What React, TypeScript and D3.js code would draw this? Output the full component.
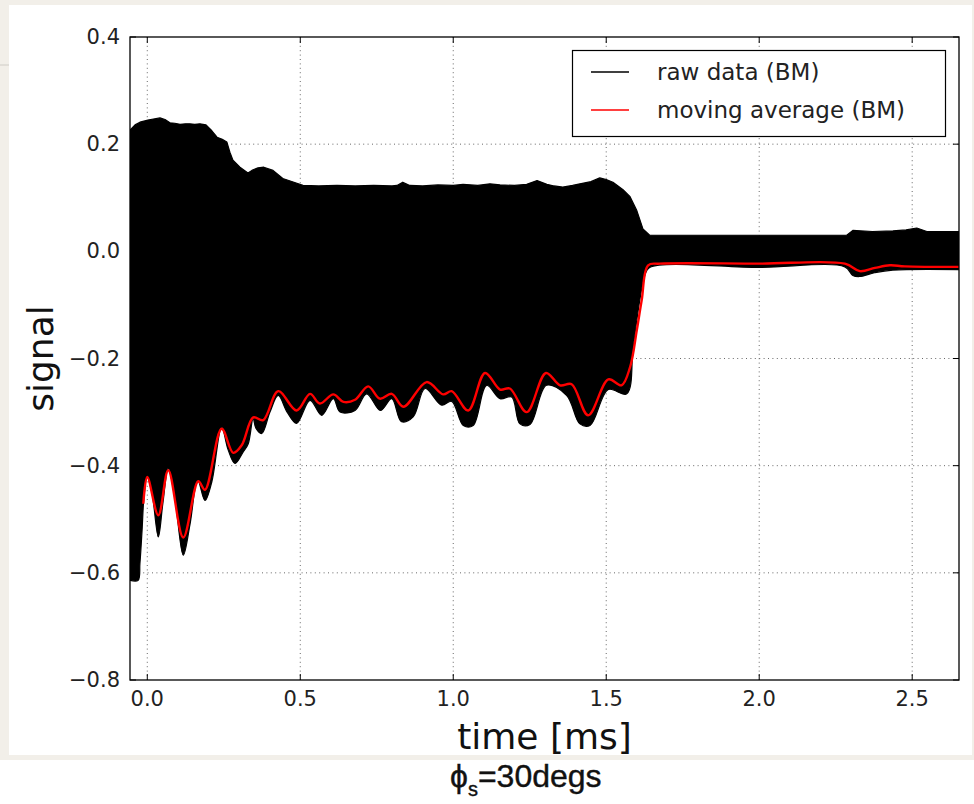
import React from "react";
import * as d3 from "d3";

// ---- data ----
const upperTime = [-0.0565, -0.04, -0.024, 0.002, 0.02, 0.0415, 0.058, 0.074, 0.09, 0.107, 0.125, 0.139, 0.155, 0.172, 0.192, 0.211, 0.228, 0.245, 0.26, 0.27, 0.28, 0.303, 0.329, 0.342, 0.362, 0.381, 0.411, 0.443, 0.489, 0.509, 0.56, 0.62, 0.68, 0.74, 0.8, 0.816, 0.835, 0.858, 0.9, 0.95, 1.0, 1.032, 1.08, 1.12, 1.153, 1.2, 1.24, 1.274, 1.306, 1.33, 1.358, 1.39, 1.414, 1.45, 1.479, 1.5, 1.522, 1.555, 1.578, 1.6, 1.62, 1.642, 1.8, 2.0, 2.2, 2.286, 2.306, 2.37, 2.437, 2.48, 2.515, 2.548, 2.6, 2.653];
const upperValue = [0.226, 0.236, 0.241, 0.245, 0.247, 0.249, 0.246, 0.24, 0.239, 0.237, 0.238, 0.238, 0.237, 0.238, 0.236, 0.225, 0.213, 0.209, 0.204, 0.185, 0.17, 0.157, 0.146, 0.151, 0.156, 0.157, 0.151, 0.136, 0.127, 0.123, 0.122, 0.123, 0.122, 0.123, 0.122, 0.123, 0.129, 0.123, 0.122, 0.124, 0.123, 0.125, 0.123, 0.126, 0.124, 0.123, 0.125, 0.132, 0.125, 0.122, 0.12, 0.123, 0.126, 0.13, 0.137, 0.134, 0.129, 0.115, 0.102, 0.076, 0.042, 0.03, 0.03, 0.03, 0.03, 0.03, 0.039, 0.037, 0.038, 0.04, 0.0435, 0.037, 0.037, 0.037];

const lowerTime = [-0.0565, -0.03, -0.024, -0.017, -0.011, -0.001, 0.015, 0.036, 0.051, 0.0686, 0.09, 0.1176, 0.1395, 0.1647, 0.1886, 0.211, 0.243, 0.264, 0.2866, 0.313, 0.33, 0.346, 0.355, 0.374, 0.401, 0.428, 0.457, 0.488, 0.532, 0.57, 0.608, 0.63, 0.679, 0.717, 0.762, 0.799, 0.831, 0.869, 0.908, 0.962, 0.995, 1.033, 1.065, 1.109, 1.153, 1.191, 1.218, 1.251, 1.305, 1.371, 1.414, 1.447, 1.507, 1.567, 1.588, 1.61, 1.626, 1.642, 2.0, 2.28, 2.306, 2.328, 2.377, 2.437, 2.653];
const lowerValue = [-0.614, -0.614, -0.582, -0.52, -0.46, -0.421, -0.45, -0.533, -0.47, -0.405, -0.46, -0.567, -0.51, -0.427, -0.465, -0.43, -0.328, -0.37, -0.396, -0.375, -0.359, -0.312, -0.33, -0.34, -0.3, -0.269, -0.3, -0.321, -0.278, -0.306, -0.275, -0.3, -0.297, -0.266, -0.297, -0.275, -0.318, -0.309, -0.256, -0.287, -0.28, -0.325, -0.325, -0.25, -0.275, -0.272, -0.322, -0.323, -0.25, -0.269, -0.322, -0.325, -0.258, -0.266, -0.179, -0.09, -0.045, -0.03, -0.03, -0.029, -0.045, -0.047, -0.04, -0.035, -0.034];

const avgTime = [-0.013, 0.0, 0.036, 0.0686, 0.1176, 0.1667, 0.1886, 0.243, 0.281, 0.3085, 0.3464, 0.379, 0.428, 0.488, 0.532, 0.564, 0.608, 0.641, 0.679, 0.722, 0.76, 0.799, 0.837, 0.913, 0.967, 0.995, 1.049, 1.104, 1.153, 1.185, 1.24, 1.303, 1.349, 1.387, 1.441, 1.507, 1.55, 1.578, 1.6, 1.616, 1.637, 1.675, 2.0, 2.28, 2.329, 2.378, 2.427, 2.476, 2.653];
const avgValue = [-0.471, -0.421, -0.4925, -0.4086, -0.534, -0.429, -0.445, -0.331, -0.376, -0.362, -0.31, -0.315, -0.261, -0.297, -0.266, -0.284, -0.267, -0.281, -0.277, -0.252, -0.275, -0.266, -0.29, -0.244, -0.267, -0.261, -0.297, -0.227, -0.258, -0.256, -0.3, -0.227, -0.25, -0.248, -0.306, -0.239, -0.25, -0.216, -0.147, -0.091, -0.026, -0.023, -0.023, -0.023, -0.037, -0.031, -0.026, -0.028, -0.029];

const xTicks = [0.0, 0.5, 1.0, 1.5, 2.0, 2.5];
const yTicks = [-0.8, -0.6, -0.4, -0.2, 0.0, 0.2, 0.4];
const legendLabels = ["raw data (BM)", "moving average (BM)"];

const W = 974, H = 804;
const L = 130, R = 959, T = 37, B = 680;
const FONT = "'DejaVu Sans', sans-serif";

export default function App() {
  const x = d3.scaleLinear().domain([-0.0565, 2.653]).range([L, R]);
  const y = d3.scaleLinear().domain([-0.8, 0.4]).range([B, T]);

  const upperPts = upperTime.map((t, i) => [x(t), y(upperValue[i])] as [number, number]);
  const lowerPts = lowerTime.map((t, i) => [x(t), y(lowerValue[i])] as [number, number]).reverse();
  const upperPath = d3.line().curve(d3.curveLinear)(upperPts) || "";
  const lowerPath = (d3.line().curve(d3.curveCatmullRom.alpha(0.5))(lowerPts) || "").replace(/^M/, "L");
  const polyPath = upperPath + lowerPath + "Z";

  const avgLine =
    d3
      .line<number>()
      .x((_, i) => x(avgTime[i]))
      .y((v) => y(v))
      .curve(d3.curveCatmullRom.alpha(0.5))(avgValue) || "";

  const fmt = (v: number) => (v < 0 ? "\u2212" : "") + Math.abs(v).toFixed(1);

  return (
    <svg width={W} height={H} style={{ position: "absolute", left: 0, top: 0 }} fontFamily={FONT}>
      <rect x={0} y={0} width={W} height={H} fill="#ffffff" />
      <rect x={0} y={0} width={W} height={760} fill="#f2efe9" />
      <rect x={9} y={5} width={963} height={750} fill="#ffffff" />
      <line x1={0} x2={9} y1={65} y2={65} stroke="#cfccc6" strokeWidth={1} />

      <defs>
        <clipPath id="plotClip">
          <rect x={L} y={T} width={R - L} height={B - T} />
        </clipPath>
      </defs>

      {/* grid */}
      <g stroke="#444" strokeWidth={1} strokeDasharray="1,3.4" opacity={0.8}>
        {xTicks.map((t) => (
          <line key={"gx" + t} x1={x(t)} x2={x(t)} y1={T} y2={B} />
        ))}
        {yTicks.slice(1, -1).map((v) => (
          <line key={"gy" + v} x1={L} x2={R} y1={y(v)} y2={y(v)} />
        ))}
      </g>

      <g clipPath="url(#plotClip)">
        <path d={polyPath} fill="#000" stroke="#000" strokeWidth={1.2} strokeLinejoin="round" />
        <path d={avgLine} fill="none" stroke="#ff0000" strokeWidth={2.4} />
      </g>

      {/* ticks */}
      <g stroke="#000" strokeWidth={1}>
        {xTicks.map((t) => (
          <g key={"tx" + t}>
            <line x1={x(t)} x2={x(t)} y1={B} y2={B - 6} />
            <line x1={x(t)} x2={x(t)} y1={T} y2={T + 6} />
          </g>
        ))}
        {yTicks.map((v) => (
          <g key={"ty" + v}>
            <line x1={L} x2={L + 6} y1={y(v)} y2={y(v)} />
            <line x1={R} x2={R - 6} y1={y(v)} y2={y(v)} />
          </g>
        ))}
      </g>

      <rect x={L} y={T} width={R - L} height={B - T} fill="none" stroke="#000" strokeWidth={1.3} />

      {/* tick labels */}
      <g fontSize={21} fill="#222">
        {xTicks.map((t) => (
          <text key={"lx" + t} x={x(t)} y={706} textAnchor="middle">
            {fmt(t)}
          </text>
        ))}
        {yTicks.map((v) => (
          <text key={"ly" + v} x={120} y={y(v)} textAnchor="end" dominantBaseline="central">
            {fmt(v)}
          </text>
        ))}
      </g>

      <text x={(L + R) / 2} y={749} fontSize={36} textAnchor="middle" fill="#111">
        time [ms]
      </text>
      <text
        transform={`translate(53, ${(T + B) / 2}) rotate(-90)`}
        fontSize={36}
        textAnchor="middle"
        fill="#111"
      >
        signal
      </text>

      {/* legend */}
      <rect x={572.5} y={50.5} width={373} height={86} fill="#fff" stroke="#000" strokeWidth={1.2} />
      <line x1={591} x2={629} y1={72} y2={72} stroke="#000" strokeWidth={1.6} />
      <line x1={591} x2={629} y1={110} y2={110} stroke="#ff0000" strokeWidth={1.6} />
      <text x={657} y={80} fontSize={23} fill="#222">{legendLabels[0]}</text>
      <text x={657} y={118} fontSize={23} fill="#222">{legendLabels[1]}</text>

      {/* caption */}
      <text x={450} y={787} fontFamily="'Liberation Sans', Arial, sans-serif" fontSize={32} fill="#111" stroke="#111" strokeWidth={0.4}>
        {"\u03D5"}
        <tspan fontSize={20} dy={9}>s</tspan>
        <tspan dy={-9}>=30degs</tspan>
      </text>
    </svg>
  );
}
